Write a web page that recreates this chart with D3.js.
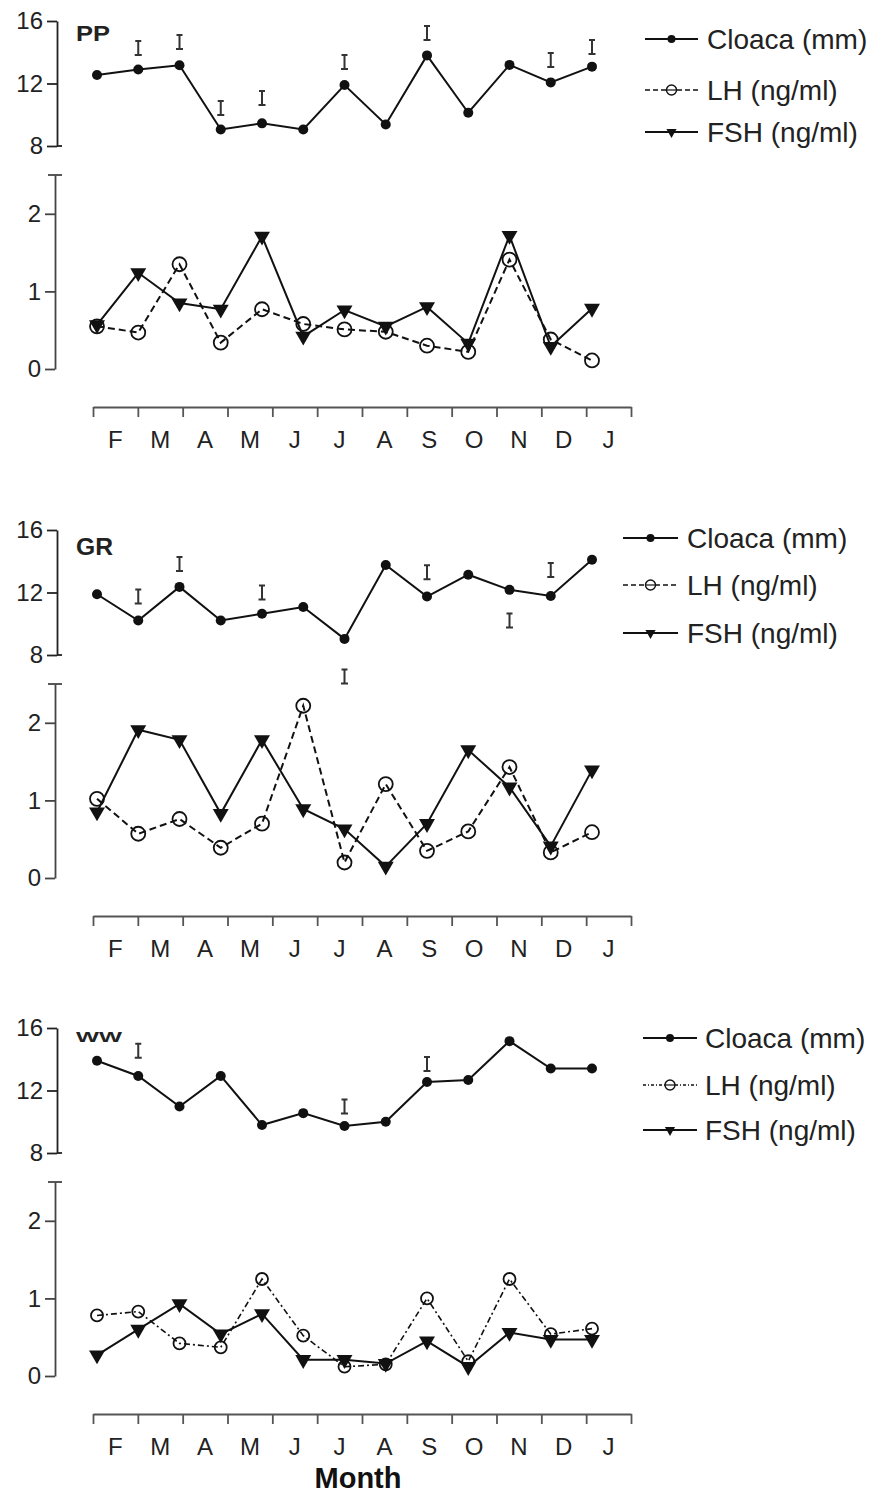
<!DOCTYPE html>
<html>
<head>
<meta charset="utf-8">
<script src="https://cdnjs.cloudflare.com/ajax/libs/d3/7.8.5/d3.min.js"></script>
<style>
body { margin: 0; background: #fff; }
svg { display: block; font-family: "Liberation Sans", Arial, sans-serif; }
</style>
</head>
<body>
<div id="chart-area"></div>
<script>
// ** Dimensions **
var width = 872;
var height = 1494;

// ** Data **
// 13 monthly samples, Jan to the following Jan
var sampleMonths = ["Jan", "Feb", "Mar", "Apr", "May", "Jun", "Jul", "Aug", "Sep", "Oct", "Nov", "Dec", "Jan2"];
var axisMonths = ["F", "M", "A", "M", "J", "J", "A", "S", "O", "N", "D", "J"];
var cloacaTicks = [8, 12, 16];
var hormoneTicks = [0, 1, 2];
var legendLabels = ["Cloaca (mm)", "LH (ng/ml)", "FSH (ng/ml)"];

// PP
var ppCloaca = [12.54, 12.9, 13.17, 9.06, 9.45, 9.06, 11.9, 9.38, 13.8, 10.13, 13.19, 12.07, 13.08];
var ppCloacaBar = [null, 14.28, 14.66, 10.43, 11.07, null, 13.38, null, 15.24, null, null, 13.5, 14.34];
var ppLH = [0.55, 0.47, 1.35, 0.34, 0.77, 0.58, 0.51, 0.48, 0.30, 0.22, 1.41, 0.38, 0.11];
var ppFSH = [0.57, 1.24, 0.85, 0.77, 1.71, 0.42, 0.76, 0.55, 0.80, 0.33, 1.72, 0.29, 0.78];

// GR
var grCloaca = [11.89, 10.21, 12.36, 10.21, 10.64, 11.07, 9.03, 13.76, 11.74, 13.14, 12.17, 11.78, 14.1];
var grCloacaBar = [null, 11.74, 13.83, null, 12.0, null, 6.62, null, 13.29, null, 10.21, 13.44, null];
var grLH = [1.02, 0.57, 0.76, 0.39, 0.70, 2.22, 0.20, 1.21, 0.35, 0.60, 1.43, 0.33, 0.59];
var grFSH = [0.85, 1.91, 1.78, 0.83, 1.78, 0.89, 0.63, 0.15, 0.70, 1.65, 1.17, 0.41, 1.39];

// WW
var wwCloaca = [13.9, 12.93, 10.98, 12.93, 9.79, 10.55, 9.73, 10.0, 12.54, 12.67, 15.16, 13.41, 13.41];
var wwCloacaBar = [null, 14.55, null, null, null, null, 10.98, null, 13.69, null, null, null, null];
var wwLH = [0.78, 0.83, 0.42, 0.37, 1.25, 0.52, 0.12, 0.15, 1.0, 0.19, 1.25, 0.54, 0.61];
var wwFSH = [0.27, 0.60, 0.93, 0.54, 0.80, 0.21, 0.21, 0.16, 0.45, 0.12, 0.56, 0.47, 0.47];

// ** Panel layout **
var panels = [
	{name: "PP", top: 0, cloaca: ppCloaca, bars: ppCloacaBar, lh: ppLH, fsh: ppFSH,
		nameSize: 22, nameWidth: 34, nameY: 41, lhDash: "7,4", lhR: 7,
		legend: {x1: 645, x2: 698, tx: 707, rows: [39, 90, 132]}},
	{name: "GR", top: 509, cloaca: grCloaca, bars: grCloacaBar, lh: grLH, fsh: grFSH,
		nameSize: 24, nameWidth: 37, nameY: 46, lhDash: "7,4", lhR: 7,
		legend: {x1: 623, x2: 678, tx: 687, rows: [29, 76, 124]}},
	{name: "WW", top: 1007, cloaca: wwCloaca, bars: wwCloacaBar, lh: wwLH, fsh: wwFSH,
		nameSize: 15, nameWidth: 46, nameY: 35, lhDash: "6,3,2,3", lhR: 6,
		legend: {x1: 643, x2: 697, tx: 705, rows: [31, 78, 123]}}
];

var svg = d3.select("#chart-area")
	.append("svg")
	.attr("width", width)
	.attr("height", height);

// Scales shared across panels
var x = d3.scalePoint()
	.domain(sampleMonths)
	.range([97, 592]);
var xTick = d3.scaleLinear()
	.domain([0, axisMonths.length])
	.range([93, 631]);
var xBand = d3.scaleBand()
	.domain(d3.range(axisMonths.length))
	.range([93, 631]);

var triangle = d3.symbol().type(d3.symbolTriangle).size(110);
var triangleSmall = d3.symbol().type(d3.symbolTriangle).size(45);

panels.forEach(function(p){
	var g = svg.append("g")
		.attr("transform", "translate(0, " + p.top + ")");

	var yC = d3.scaleLinear().domain([8, 16]).range([146, 21]);
	var yH = d3.scaleLinear().domain([0, 2.5]).range([369, 175]);

	// Cloaca axis
	var cAxis = g.append("g")
		.attr("class", "y-axis")
		.attr("transform", "translate(57, 0)")
		.call(d3.axisLeft(yC).tickValues(cloacaTicks).tickSize(10).tickSizeOuter(0).tickPadding(4));
	// Hormone axis
	var hAxis = g.append("g")
		.attr("class", "y-axis")
		.attr("transform", "translate(55, 0)")
		.call(d3.axisLeft(yH).tickValues(hormoneTicks).tickFormat(d3.format("d"))
			.tickSize(10).tickSizeOuter(0).tickPadding(4));
	hAxis.append("line")
		.attr("x1", -7).attr("x2", 7)
		.attr("y1", yH(2.5)).attr("y2", yH(2.5));
	cAxis.append("line")
		.attr("x1", 0).attr("x2", 5)
		.attr("y1", yC(8)).attr("y2", yC(8));

	[cAxis, hAxis].forEach(function(a, i){
		a.selectAll("path, line")
			.attr("stroke", i == 0 ? "#222" : "#444")
			.attr("stroke-width", 1.8);
		a.selectAll("text")
			.style("font-size", "24px")
			.style("font-family", "Liberation Sans, Arial, sans-serif")
			.attr("fill", "#222");
	});

	// Month axis
	var mAxis = g.append("g")
		.attr("class", "x-axis")
		.attr("transform", "translate(0, 407)")
		.call(d3.axisBottom(xTick).tickValues(d3.range(axisMonths.length + 1))
			.tickSize(10).tickSizeOuter(0).tickFormat(""));
	mAxis.selectAll("path, line")
		.attr("stroke", "#555")
		.attr("stroke-width", 1.8);
	g.selectAll(".month-label")
		.data(axisMonths)
		.enter()
		.append("text")
		.attr("class", "month-label")
		.attr("x", function(d, i){ return xBand(i) + xBand.bandwidth() / 2; })
		.attr("y", 448)
		.attr("text-anchor", "middle")
		.style("font-size", "24px")
		.attr("fill", "#222")
		.text(function(d){ return d; });

	// Panel name
	g.append("text")
		.attr("x", 76)
		.attr("y", p.nameY)
		.attr("textLength", p.nameWidth)
		.attr("lengthAdjust", "spacingAndGlyphs")
		.style("font-size", p.nameSize + "px")
		.attr("font-weight", "bold")
		.attr("fill", "#222")
		.text(p.name);

	// Lines
	var lineC = d3.line()
		.x(function(d, i){ return x(sampleMonths[i]); })
		.y(function(d){ return yC(d); });
	var lineH = d3.line()
		.x(function(d, i){ return x(sampleMonths[i]); })
		.y(function(d){ return yH(d); });

	g.append("path")
		.attr("d", lineC(p.cloaca))
		.attr("fill", "none")
		.attr("stroke", "#111")
		.attr("stroke-width", 2);
	g.append("path")
		.attr("d", lineH(p.lh))
		.attr("fill", "none")
		.attr("stroke", "#111")
		.attr("stroke-width", p.name == "WW" ? 1.6 : 2)
		.attr("stroke-dasharray", p.lhDash);
	g.append("path")
		.attr("d", lineH(p.fsh))
		.attr("fill", "none")
		.attr("stroke", "#111")
		.attr("stroke-width", 2);

	// Error bars (drawn as small I glyphs)
	g.selectAll(".err")
		.data(p.bars.map(function(v, i){ return {v: v, m: sampleMonths[i]}; })
			.filter(function(d){ return d.v != null; }))
		.enter()
		.append("path")
		.attr("class", "err")
		.attr("d", function(d){
			var cx = x(d.m), cy = yC(d.v);
			return "M" + (cx - 3) + "," + (cy - 7) + "H" + (cx + 3)
				+ "M" + cx + "," + (cy - 7) + "V" + (cy + 7)
				+ "M" + (cx - 3.5) + "," + (cy + 7) + "H" + (cx + 3.5);
		})
		.attr("fill", "none")
		.attr("stroke", "#333")
		.attr("stroke-width", 2);

	// Markers
	g.selectAll(".cloaca-dot")
		.data(p.cloaca)
		.enter()
		.append("circle")
		.attr("class", "cloaca-dot")
		.attr("cx", function(d, i){ return x(sampleMonths[i]); })
		.attr("cy", function(d){ return yC(d); })
		.attr("r", 5)
		.attr("fill", "#111");

	g.selectAll(".lh-dot")
		.data(p.lh)
		.enter()
		.append("circle")
		.attr("class", "lh-dot")
		.attr("cx", function(d, i){ return x(sampleMonths[i]); })
		.attr("cy", function(d){ return yH(d); })
		.attr("r", p.lhR)
		.attr("fill", "none")
		.attr("stroke", "#111")
		.attr("stroke-width", 1.8);

	g.selectAll(".fsh-dot")
		.data(p.fsh)
		.enter()
		.append("path")
		.attr("class", "fsh-dot")
		.attr("d", triangle)
		.attr("transform", function(d, i){
			return "translate(" + x(sampleMonths[i]) + "," + yH(d) + ") rotate(180)";
		})
		.attr("fill", "#111");

	// ** Legend **
	var L = p.legend;
	legendLabels.forEach(function(label, i){
		var row = g.append("g")
			.attr("transform", "translate(0, " + L.rows[i] + ")");
		var mid = (L.x1 + L.x2) / 2;
		row.append("line")
			.attr("x1", L.x1).attr("x2", L.x2)
			.attr("stroke", "#111")
			.attr("stroke-width", i == 1 ? 1.3 : 1.8)
			.attr("stroke-dasharray", i == 1 ? (p.name == "WW" ? "3,2,1,2" : "5,3") : null);
		if (i == 0){
			row.append("circle").attr("cx", mid).attr("r", 4).attr("fill", "#111");
		} else if (i == 1){
			row.append("circle").attr("cx", mid).attr("r", 5)
				.attr("fill", "#fff").attr("stroke", "#111").attr("stroke-width", 1.4);
			row.append("line").attr("x1", mid - 5).attr("x2", mid + 5)
				.attr("stroke", "#111").attr("stroke-width", 1.2);
		} else {
			row.append("path").attr("d", triangleSmall)
				.attr("transform", "translate(" + mid + ",0) rotate(180)")
				.attr("fill", "#111");
		}
		row.append("text")
			.attr("x", L.tx)
			.attr("y", 0)
			.attr("dy", "0.35em")
			.style("font-size", "28px")
			.attr("fill", "#222")
			.text(label);
	});
});

// Bottom axis title
svg.append("text")
	.attr("x", 358)
	.attr("y", 1488)
	.attr("text-anchor", "middle")
	.style("font-size", "29px")
	.attr("font-weight", "bold")
	.attr("fill", "#111")
	.text("Month");
</script>
</body>
</html>
